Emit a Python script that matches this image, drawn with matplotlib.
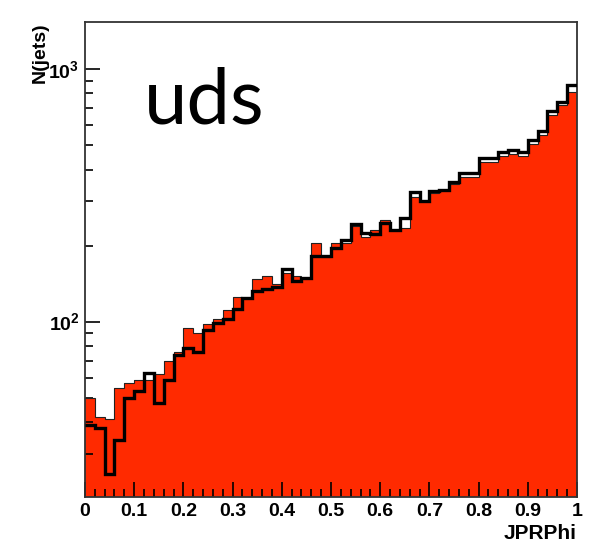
import numpy as np
import matplotlib.pyplot as plt
from matplotlib.ticker import FixedLocator, FixedFormatter, NullFormatter

plt.rcParams['font.family'] = ['Liberation Sans', 'DejaVu Sans']
plt.rcParams['mathtext.fontset'] = 'custom'
plt.rcParams['mathtext.rm'] = 'Liberation Sans:bold'
plt.rcParams['mathtext.bf'] = 'Liberation Sans:bold'

# 50 bins on [0, 1]
edges = np.linspace(0, 1, 51)

# filled histogram (red)
red_counts = [50, 42, 41, 54.5, 57, 58.7, 58.7, 62, 69.5, 76,
              94.6, 90.4, 97.6, 102, 111, 125.5, 124, 147, 151, 140.6,
              155, 152, 149, 205, 180, 204, 205, 238, 217, 230.6,
              252, 231, 234, 312, 300, 322, 332, 350, 375, 375,
              427, 427, 453, 459, 453, 505, 548, 658, 721, 813]

# outline histogram (black)
black_counts = [39, 38, 25, 34, 50, 53, 62.8, 47.6, 58.7, 73.8,
                78.5, 76, 92.7, 98.5, 102, 112, 124, 132, 135, 137,
                161, 145, 149, 182, 182, 195, 210, 243, 224, 222,
                246, 231, 258, 327, 300, 329, 332, 358, 389, 389,
                444, 444, 471, 478, 471, 524, 569, 684, 743, 865]

fig = plt.figure(figsize=(5.93, 5.45), dpi=100)
ax = fig.add_axes([0.1433, 0.0881, 0.8297, 0.8715])

ax.stairs(red_counts, edges, fill=True, color='#ff2a00', baseline=1, zorder=1)
ax.stairs(red_counts, edges, color='#222222', linewidth=0.8, baseline=None, zorder=2)
ax.stairs(black_counts, edges, color='black', linewidth=2.4, baseline=None, zorder=3)

ax.set_yscale('log')
ax.set_xlim(0, 1)
ax.set_ylim(20.2, 1535)

# ticks ROOT style
ax.xaxis.set_major_locator(FixedLocator(np.round(np.arange(0, 1.01, 0.1), 2)))
ax.xaxis.set_minor_locator(FixedLocator(np.round(np.arange(0, 1.001, 0.02), 2)))
ax.set_xticklabels(['0', '0.1', '0.2', '0.3', '0.4', '0.5', '0.6', '0.7', '0.8', '0.9', '1'])
ax.yaxis.set_major_locator(FixedLocator([100, 1000]))
ax.yaxis.set_major_formatter(FixedFormatter([r'$\mathbf{10^{2}}$', r'$\mathbf{10^{3}}$']))
minor_y = [v * d for d in (10, 100) for v in range(2, 10)]
ax.yaxis.set_minor_locator(FixedLocator(minor_y))
ax.yaxis.set_minor_formatter(NullFormatter())

ax.tick_params(which='major', direction='in', length=11, width=1.2, labelsize=14,
               top=False, right=False, pad=4)
ax.tick_params(which='minor', direction='in', length=6, width=1.2, top=False, right=False)
for lab in ax.get_xticklabels():
    lab.set_fontweight('bold')

for sp in ax.spines.values():
    sp.set_linewidth(1.3)
    sp.set_color('#333333')

ax.set_xlabel('JPRPhi', fontsize=15, fontweight='bold', loc='right', labelpad=3)
ax.set_ylabel('N(jets)', fontsize=14, fontweight='bold', loc='top', labelpad=0)

ax.text(0.12, 0.787, 'uds', transform=ax.transAxes, fontsize=56,
        family=['Lato', 'DejaVu Sans'], ha='left', va='baseline', zorder=5)

plt.savefig('out.png', dpi=100)
